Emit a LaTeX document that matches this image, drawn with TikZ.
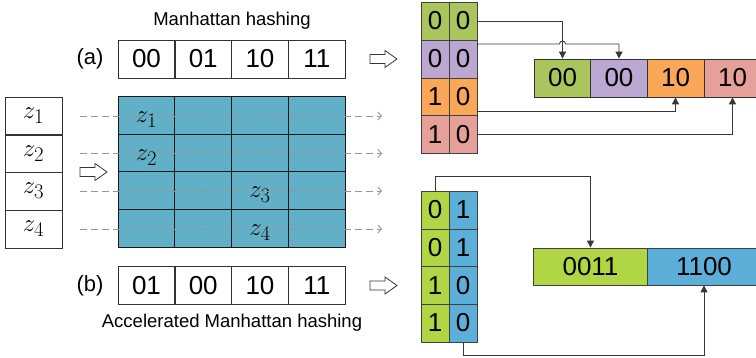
\documentclass[tikz,border=0pt]{standalone}
\usepackage{fontspec}
\setmainfont{Liberation Sans}
\usetikzlibrary{arrows.meta}
\definecolor{gridblue}{RGB}{98,175,200}
\definecolor{agreen}{RGB}{170,197,92}
\definecolor{apurple}{RGB}{187,167,210}
\definecolor{aorange}{RGB}{250,168,88}
\definecolor{apink}{RGB}{230,160,154}
\definecolor{blime}{RGB}{176,214,70}
\definecolor{bblue}{RGB}{92,175,216}
\definecolor{linegray}{RGB}{55,55,55}
\definecolor{dashgray}{RGB}{150,150,150}
\begin{document}
\begin{tikzpicture}[x=1pt,y=-1pt,
  big/.style={font=\fontsize{26}{26}\selectfont},
  zfont/.style={font=\fontsize{28}{28}\selectfont},
  cell/.style={big,draw=black!80,line width=0.8pt,minimum width=57pt,minimum height=38pt,inner sep=0pt},
  gcell/.style={draw=black!90,line width=1pt,fill=gridblue,minimum width=57pt,minimum height=38pt,inner sep=0pt},
  zcell/.style={zfont,draw=black!80,line width=0.8pt,minimum width=57pt,minimum height=38pt,inner sep=0pt},
  bit/.style={big,draw=black!75,line width=0.8pt,minimum width=28pt,minimum height=38pt,inner sep=0pt},
  wide/.style={big,draw=black!75,line width=0.8pt,minimum width=113.5pt,minimum height=37pt,inner sep=0pt},
  lab/.style={font=\fontsize{22}{22}\selectfont},
  caption/.style={font=\fontsize{18.5}{18.5}\selectfont},
  conn/.style={draw=linegray,line width=0.9pt,-{Triangle[length=7pt,width=7pt]}},
  dashconn/.style={draw=dashgray,line width=0.9pt,dash pattern=on 7pt off 4pt,-{Straight Barb[length=3.5pt,width=8pt]}},
  hollow/.style={draw=linegray,line width=0.8pt,fill=white}]
\useasboundingbox (0,0) rectangle (756,358);
\clip (0,0) rectangle (756,358);

% captions and labels
\node[caption] (cap1) at (232,21) {Manhattan hashing};
\node[caption] (cap2) at (232,323) {Accelerated Manhattan hashing};
\node[lab] (la) at (90,59) {(a)};
\node[lab] (lb) at (90,286) {(b)};

% top row (a)
\foreach \t [count=\i] in {00,01,10,11}
  \node[cell] (a\i) at ({118+28.5+(\i-1)*56.75},59) {\t};
% bottom row (b)
\foreach \t [count=\i] in {01,00,10,11}
  \node[cell] (b\i) at ({118+28.5+(\i-1)*56.75},285.5) {\t};

% left z column
\foreach \i/\y in {1/116,2/153.5,3/191,4/229}
  \node[zcell] (z\i) at (33.5,\y) {$z_{\i}$};

% blue grid
\foreach \r/\y in {1/116,2/153.5,3/191,4/229}
  \foreach \c in {1,2,3,4}
    \node[gcell] (g\r\c) at ({118+28.5+(\c-1)*56.75},\y) {};
\node[zfont] (gz1) at ([yshift=-4pt]g11.center) {$z_1$};
\node[zfont] (gz2) at ([yshift=-4pt]g21.center) {$z_2$};
\node[zfont] (gz3) at ([yshift=-4pt]g33.center) {$z_3$};
\node[zfont] (gz4) at ([yshift=-4pt]g43.center) {$z_4$};

% dashed lines
\foreach \i/\y in {1/116,2/153.5,3/191,4/229}{
  \coordinate (ds\i) at (80,\y);
  \coordinate (de\i) at (382,\y);
  \draw[dashconn] (ds\i) -- (de\i);
}

% hollow arrows
\draw[hollow] (370,54.5) -- (385,54.5) -- (385,50.5) -- (397,59) -- (385,67.5) -- (385,63.5) -- (370,63.5) -- cycle;
\draw[hollow] (80,167.5) -- (95,167.5) -- (95,163.5) -- (107,172) -- (95,180.5) -- (95,176.5) -- (80,176.5) -- cycle;
\draw[hollow] (370,281) -- (385,281) -- (385,277) -- (397,285.5) -- (385,294) -- (385,290) -- (370,290) -- cycle;

% (a) bit column
\node[bit,fill=agreen] (al1) at (435,21) {0};
\node[bit,fill=agreen] (ar1) at (463,21) {0};
\node[bit,fill=apurple] (al2) at (435,59) {0};
\node[bit,fill=apurple] (ar2) at (463,59) {0};
\node[bit,fill=aorange] (al3) at (435,97) {1};
\node[bit,fill=aorange] (ar3) at (463,97) {0};
\node[bit,fill=apink] (al4) at (435,134.5) {1};
\node[bit,fill=apink] (ar4) at (463,134.5) {0};

% (a) output row
\node[cell,fill=agreen] (o1) at (562.5,78) {00};
\node[cell,fill=apurple] (o2) at (619,78) {00};
\node[cell,fill=aorange] (o3) at (675.5,78) {10};
\node[cell,fill=apink] (o4) at (732.5,78) {10};

% (a) connectors
\draw[conn] (ar1.east) -| (o1.north);
\coordinate (jump) at ([yshift=15pt]ar2.east -| o1.north);
\draw[conn] ([yshift=15pt]ar2.east) -- ([xshift=-3pt]jump) arc[start angle=180,end angle=0,radius=3pt] -| (o2.north);
\draw[conn] ([yshift=-14pt]ar3.east) -| (o3.south);
\draw[conn] (ar4.east) -| (o4.south);

% (b) bit column
\node[bit,fill=blime] (bl1) at (435,210) {0};
\node[bit,fill=bblue] (br1) at (463,210) {1};
\node[bit,fill=blime] (bl2) at (435,248) {0};
\node[bit,fill=bblue] (br2) at (463,248) {1};
\node[bit,fill=blime] (bl3) at (435,285.5) {1};
\node[bit,fill=bblue] (br3) at (463,285.5) {0};
\node[bit,fill=blime] (bl4) at (435,323) {1};
\node[bit,fill=bblue] (br4) at (463,323) {0};

% (b) output
\node[wide,fill=blime] (pg) at (590.5,266.5) {0011};
\node[wide,fill=bblue] (pb) at (704,266.5) {1100};

% (b) connectors
\draw[conn] (bl1.north) -- ++(0,-14) -| (pg.north);
\draw[conn] (br4.south) -- ++(0,13) -| (pb.south);
\end{tikzpicture}
\end{document}
